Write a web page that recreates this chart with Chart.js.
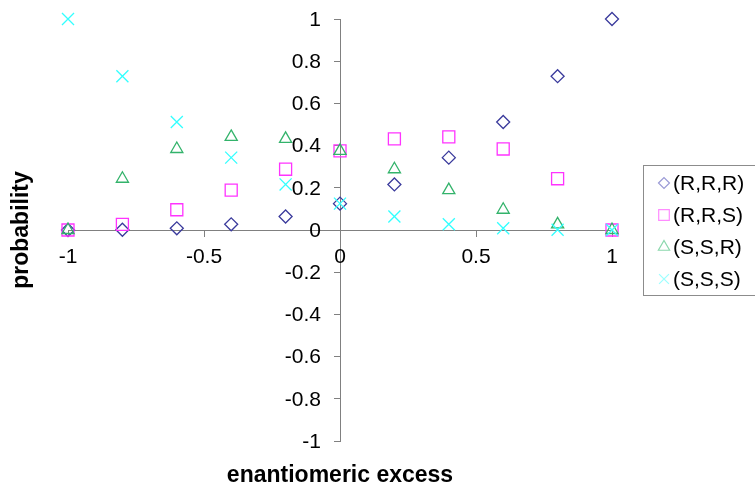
<!DOCTYPE html>
<html>
<head>
<meta charset="utf-8">
<script src="https://cdn.jsdelivr.net/npm/chart.js@4.4.0/dist/chart.umd.min.js"></script>
<style>
    html, body { margin: 0; padding: 0; background: #fff; }
    #wrap { width: 755px; height: 486px; }
</style>
</head>
<body>
<div id="wrap"><canvas id="myChart" width="755" height="486"></canvas></div>
<script>
const eeValues = [-1, -0.8, -0.6, -0.4, -0.2, 0, 0.2, 0.4, 0.6, 0.8, 1];
const rrr = [0, 0.001, 0.008, 0.027, 0.064, 0.125, 0.216, 0.343, 0.512, 0.729, 1];
const rrs = [0, 0.027, 0.096, 0.189, 0.288, 0.375, 0.432, 0.441, 0.384, 0.243, 0];
const ssr = [0, 0.243, 0.384, 0.441, 0.432, 0.375, 0.288, 0.189, 0.096, 0.027, 0];
const sss = [1, 0.729, 0.512, 0.343, 0.216, 0.125, 0.064, 0.027, 0.008, 0.001, 0];
const seriesNames = ['(R,R,R)', '(R,R,S)', '(S,S,R)', '(S,S,S)'];
const legendColors = ['#9a9ad6', '#ff8cff', '#8cd8ad', '#9cffff'];
const legendRadius = [5.5, 7.5, 6.5, 7];

const fontFamily = '"Liberation Sans", Arial, sans-serif';

function toPoints(ys) {
    return eeValues.map((x, i) => ({ x: x, y: ys[i] }));
}

function fmt(v) {
    return String(Number(v.toFixed(1)));
}

// tick labels, axis titles and the boxed legend on the right
const extras = {
    id: 'extras',
    afterDraw(chart) {
        const c = chart.ctx;
        const xs = chart.scales.x;
        const ys = chart.scales.y;
        const x0 = xs.getPixelForValue(0);
        const y0 = ys.getPixelForValue(0);

        c.save();
        c.fillStyle = '#000';
        c.font = '21px ' + fontFamily;
        c.textBaseline = 'middle';
        c.textAlign = 'right';
        ys.ticks.forEach(t => {
            c.fillText(fmt(t.value), x0 - 19, ys.getPixelForValue(t.value) + 1);
        });
        c.textAlign = 'center';
        xs.ticks.forEach(t => {
            c.fillText(fmt(t.value), xs.getPixelForValue(t.value), y0 + 27);
        });

        c.font = 'bold 23px ' + fontFamily;
        c.fillText('enantiomeric excess', 340, 476);
        c.translate(22, 230);
        c.rotate(-Math.PI / 2);
        c.fillText('probability', 0, 0);
        c.restore();

        c.save();
        c.strokeStyle = '#8c8c8c';
        c.lineWidth = 1;
        c.strokeRect(643.5, 165.5, 130, 130);
        c.font = '21px ' + fontFamily;
        c.textAlign = 'left';
        c.textBaseline = 'middle';
        chart.data.datasets.forEach((ds, i) => {
            const y = 183 + i * 32;
            c.strokeStyle = legendColors[i];
            c.fillStyle = 'rgba(0,0,0,0)';
            c.lineWidth = 1.2;
            Chart.helpers.drawPoint(c, {
                pointStyle: ds.pointStyle,
                radius: legendRadius[i],
                rotation: 0,
                borderWidth: 1.2
            }, 664, y);
            c.fillStyle = '#000';
            c.fillText(ds.label, 673, y + 1);
        });
        c.restore();
    }
};

const ctx = document.getElementById('myChart').getContext('2d');
const chart = new Chart(ctx, {
    type: 'scatter',
    data: {
        datasets: [
            { label: seriesNames[0], data: toPoints(rrr), pointStyle: 'rectRot', pointRadius: 6.5, borderColor: '#3a3a9c', order: 4 },
            { label: seriesNames[1], data: toPoints(rrs), pointStyle: 'rect', pointRadius: 8.5, borderColor: '#ff33ff', order: 3 },
            { label: seriesNames[2], data: toPoints(ssr), pointStyle: 'triangle', pointRadius: 7, borderColor: '#33b36b', order: 2 },
            { label: seriesNames[3], data: toPoints(sss), pointStyle: 'crossRot', pointRadius: 8.5, borderColor: '#33ffff', order: 1 }
        ].map(ds => Object.assign(ds, {
            backgroundColor: 'rgba(0,0,0,0)',
            borderWidth: 1.3,
            clip: false,
            pointHoverRadius: ds.pointRadius
        }))
    },
    options: {
        responsive: false,
        animation: false,
        layout: { padding: { left: 68, right: 143, top: 19, bottom: 45 } },
        plugins: {
            legend: { display: false },
            tooltip: { enabled: false }
        },
        scales: {
            x: {
                type: 'linear',
                min: -1,
                max: 1,
                position: { y: 0 },
                border: { display: true, color: '#808080', width: 1 },
                grid: { drawOnChartArea: false, drawTicks: true, tickLength: 6, color: '#808080' },
                ticks: { stepSize: 0.5, display: false }
            },
            y: {
                type: 'linear',
                min: -1,
                max: 1,
                position: { x: 0 },
                border: { display: true, color: '#808080', width: 1 },
                grid: { drawOnChartArea: false, drawTicks: true, tickLength: 6, color: '#808080' },
                ticks: { stepSize: 0.2, display: false }
            }
        }
    },
    plugins: [extras]
});
</script>
</body>
</html>
